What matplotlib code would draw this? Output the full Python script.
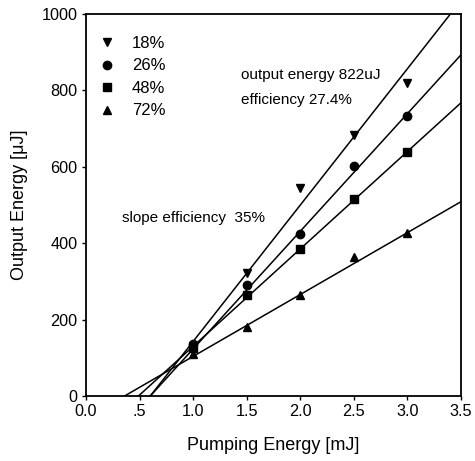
import matplotlib.pyplot as plt
import numpy as np

plt.rcParams['font.family'] = ['Liberation Sans', 'DejaVu Sans']

# measured points (pumping energy in mJ, output energy in uJ)
pump = [1.0, 1.5, 2.0, 2.5, 3.0]
out_18 = [130, 321, 544, 683, 820]
out_26 = [135, 290, 423, 602, 733]
out_48 = [125, 264, 384, 517, 640]
out_72 = [110, 181, 264, 363, 426]

labels = ['18%', '26%', '48%', '72%']
markers = ['v', 'o', 's', '^']

# straight line fits: x-intercept (mJ) and slope (uJ/mJ)
fit_x0 = [0.60, 0.60, 0.49, 0.36]
fit_slope = [357, 308, 255, 162]

fig = plt.figure(figsize=(4.75, 4.61), dpi=100)
ax = fig.add_axes([0.181, 0.141, 0.7895, 0.8286])

series = [out_18, out_26, out_48, out_72]
for y, m, lab, x0, k in zip(series, markers, labels, fit_x0, fit_slope):
    ax.plot(pump, y, linestyle='none', marker=m, color='black', markersize=6, label=lab)
    xs = np.array([x0, 3.5])
    ax.plot(xs, k * (xs - x0), color='black', linewidth=1.1)

ax.set_xlim(0, 3.5)
ax.set_ylim(0, 1000)
ax.set_xticks([0, 0.5, 1.0, 1.5, 2.0, 2.5, 3.0, 3.5])
ax.set_xticklabels(['0.0', '.5', '1.0', '1.5', '2.0', '2.5', '3.0', '3.5'])
ax.set_yticks([0, 200, 400, 600, 800, 1000])
ax.tick_params(direction='out', length=3, width=1, labelsize=11.7, pad=3)
for s in ax.spines.values():
    s.set_linewidth(1.3)

ax.set_xlabel('Pumping Energy [mJ]', fontsize=13, labelpad=13)
ax.set_ylabel('Output Energy [\u03bcJ]', fontsize=13, labelpad=10)

ax.legend(loc='upper left', frameon=False, fontsize=12, handletextpad=1.0,
          borderaxespad=0.5, labelspacing=0.45, handlelength=1.0,
          bbox_to_anchor=(-0.007, 0.982))

ax.text(1.45, 840, 'output energy 822uJ', fontsize=11, va='center')
ax.text(1.45, 775, 'efficiency 27.4%', fontsize=11, va='center')
ax.text(0.336, 466, 'slope efficiency  35%', fontsize=11, va='center')

plt.savefig('out.png', dpi=100)
